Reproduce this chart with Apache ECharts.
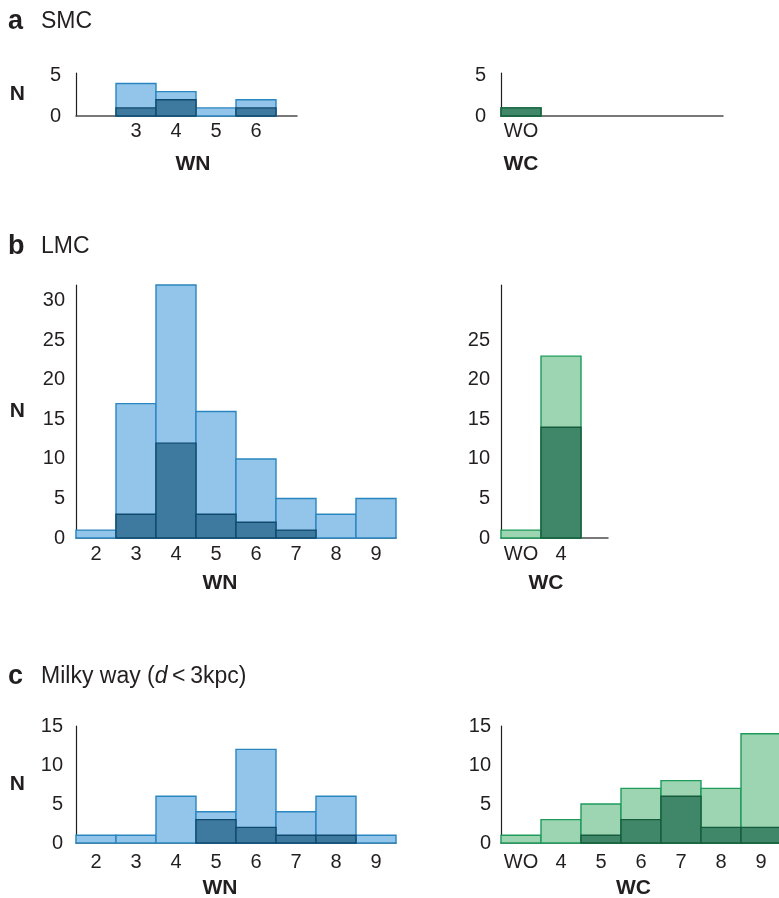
<!DOCTYPE html>
<html><head><meta charset="utf-8">
<script src="https://cdn.jsdelivr.net/npm/echarts@6/dist/echarts.min.js"></script>
<style>html,body{margin:0;padding:0;background:#fff}#c{width:779px;height:898px}</style>
</head><body><div id="c"></div>
<script>
// ---- data ----
// SMC
const smcWNBins = ['3', '4', '5', '6'];
const smcWNAll  = [4, 3, 1, 2];
const smcWNDark = [1, 2, 0, 1];
const smcWCBins = ['WO'];
const smcWCAll  = [1];
const smcWCDark = [1];
// LMC
const lmcWNBins = ['2', '3', '4', '5', '6', '7', '8', '9'];
const lmcWNAll  = [1, 17, 32, 16, 10, 5, 3, 5];
const lmcWNDark = [0, 3, 12, 3, 2, 1, 0, 0];
const lmcWCBins = ['WO', '4'];
const lmcWCAll  = [1, 23];
const lmcWCDark = [0, 14];
// Milky Way (d < 3 kpc)
const mwWNBins = ['2', '3', '4', '5', '6', '7', '8', '9'];
const mwWNAll  = [1, 1, 6, 4, 12, 4, 6, 1];
const mwWNDark = [0, 0, 0, 3, 2, 1, 1, 0];
const mwWCBins = ['WO', '4', '5', '6', '7', '8', '9'];
const mwWCAll  = [1, 3, 5, 7, 8, 7, 14];
const mwWCDark = [0, 0, 1, 3, 6, 2, 2];
// y tick labels
const yTicksSMC = [0, 5];
const yTicksLMCWN = [0, 5, 10, 15, 20, 25, 30];
const yTicksLMCWC = [0, 5, 10, 15, 20, 25];
const yTicksMW = [0, 5, 10, 15];
// panel titles
const panelLetters = ['a', 'b', 'c'];
const panelNames = ['SMC', 'LMC', 'Milky way'];

// ---- styling ----
const FONT = 'Liberation Sans, Arial, Helvetica, sans-serif';
const TXT = '#231f20';
const BLUE = { light: '#93c5ea', lightStroke: '#2a86c0', dark: '#3e7a9f', darkStroke: '#0f4a6e' };
const GREEN = { light: '#9dd4b2', lightStroke: '#1f9b5b', dark: '#3f8768', darkStroke: '#145d3b' };

// bin position on the numeric axis: WO sits just before WC4
function binPos(label) { return label === 'WO' ? 3 : Number(label); }

const grids = [], xAxes = [], yAxes = [], series = [];

function panel(cfg) {
  const i = grids.length;
  grids.push({ left: cfg.left, top: cfg.top, width: cfg.width, height: cfg.height,
               containLabel: false, outerBoundsMode: 'none' });
  const labelMap = {};
  cfg.bins.forEach(b => { labelMap[binPos(b)] = b; });
  xAxes.push({
    type: 'value', gridIndex: i, min: cfg.xMin, max: cfg.xMax,
    splitLine: { show: false }, axisTick: { show: false },
    axisLine: { show: true, lineStyle: { color: '#4d4d4d', width: 1.5 } },
    axisLabel: {
      customValues: cfg.bins.map(binPos), formatter: v => labelMap[v] || '',
      fontSize: 20, color: TXT, fontFamily: FONT, margin: cfg.xMargin
    },
    name: cfg.xName, nameLocation: 'middle', nameGap: cfg.xNameGap,
    nameTextStyle: { fontSize: 21, fontWeight: 'bold', color: TXT, fontFamily: FONT, padding: cfg.xNamePad }
  });
  yAxes.push({
    type: 'value', gridIndex: i, min: 0, max: cfg.yMax,
    splitLine: { show: false }, axisTick: { show: false },
    axisLine: { show: true, lineStyle: { color: '#231f20', width: 1.2 } },
    axisLabel: { customValues: cfg.yTicks, fontSize: 20, color: TXT, fontFamily: FONT, margin: cfg.yMargin },
    name: cfg.yName || '', nameLocation: 'middle', nameRotate: 0, nameGap: 51,
    nameTextStyle: { fontSize: 21, fontWeight: 'bold', color: TXT, fontFamily: FONT }
  });
  const mk = (vals, fill, stroke, name) => ({
    type: 'custom', name, xAxisIndex: i, yAxisIndex: i, clip: false,
    data: cfg.bins.map((b, k) => [binPos(b), vals[k]]).filter(d => d[1] > 0),
    encode: { x: 0, y: 1 },
    renderItem: (params, api) => {
      const x = api.value(0), v = api.value(1);
      const p0 = api.coord([x - 0.5, v]);
      const p1 = api.coord([x + 0.5, 0]);
      return { type: 'rect', shape: { x: p0[0], y: p0[1], width: p1[0] - p0[0], height: p1[1] - p0[1] },
               style: { fill, stroke, lineWidth: 1.4 } };
    }
  });
  series.push(mk(cfg.all, cfg.pal.light, cfg.pal.lightStroke, 'all'));
  series.push(mk(cfg.dark, cfg.pal.dark, cfg.pal.darkStroke, 'subset'));
}

panel({ left: 76, top: 73, width: 221, height: 43, xMin: 1.5, xMax: 7.025, yMax: 5.3,
  bins: smcWNBins, all: smcWNAll, dark: smcWNDark, pal: BLUE, yTicks: yTicksSMC,
  xName: 'WN', yName: 'N', xNameGap: 38, xNamePad: [0, 0, 0, 13], xMargin: 5, yMargin: 15 });
panel({ left: 501, top: 73, width: 222, height: 43, xMin: 2.5, xMax: 8.05, yMax: 5.3,
  bins: smcWCBins, all: smcWCAll, dark: smcWCDark, pal: GREEN, yTicks: yTicksSMC,
  xName: 'WC', xNameGap: 38, xNamePad: [0, 182, 0, 0], xMargin: 5, yMargin: 15 });
panel({ left: 76, top: 285, width: 320, height: 253, xMin: 1.5, xMax: 9.5, yMax: 32,
  bins: lmcWNBins, all: lmcWNAll, dark: lmcWNDark, pal: BLUE, yTicks: yTicksLMCWN,
  xName: 'WN', yName: 'N', xNameGap: 35, xNamePad: [0, 32, 0, 0], xMargin: 6, yMargin: 11 });
panel({ left: 501, top: 285, width: 107, height: 253, xMin: 2.5, xMax: 5.175, yMax: 32,
  bins: lmcWCBins, all: lmcWCAll, dark: lmcWCDark, pal: GREEN, yTicks: yTicksLMCWC,
  xName: 'WC', xNameGap: 35, xNamePad: [0, 17, 0, 0], xMargin: 6, yMargin: 11 });
panel({ left: 76, top: 726, width: 320, height: 117, xMin: 1.5, xMax: 9.5, yMax: 15,
  bins: mwWNBins, all: mwWNAll, dark: mwWNDark, pal: BLUE, yTicks: yTicksMW,
  xName: 'WN', yName: 'N', xNameGap: 35, xNamePad: [0, 32, 0, 0], xMargin: 9, yMargin: 13 });
panel({ left: 501, top: 726, width: 278, height: 117, xMin: 2.5, xMax: 9.45, yMax: 15,
  bins: mwWCBins, all: mwWCAll, dark: mwWCDark, pal: GREEN, yTicks: yTicksMW,
  xName: 'WC', xNameGap: 35, xNamePad: [0, 13, 0, 0], xMargin: 9, yMargin: 10 });

const titleRich = {
  l: { fontSize: 27, fontWeight: 'bold', color: TXT, fontFamily: FONT, width: 33 },
  n: { fontSize: 23, fontWeight: 'normal', color: TXT, fontFamily: FONT },
  i: { fontSize: 23, fontWeight: 'normal', color: TXT, fontFamily: FONT, fontStyle: 'italic' }
};
const titleTops = [8, 233, 663];
const titles = panelLetters.map((l, k) => ({
  left: 8, top: titleTops[k], padding: 0,
  text: k === 2 ? `{l|${l}}{n|${panelNames[k]} (}{i|d}{n|\u2009<\u20093kpc)}` : `{l|${l}}{n|${panelNames[k]}}`,
  textStyle: { fontWeight: 'normal', rich: titleRich }
}));

const chart = echarts.init(document.getElementById('c'), null, { renderer: 'canvas' });
chart.setOption({
  animation: false, backgroundColor: '#fff',
  title: titles, grid: grids, xAxis: xAxes, yAxis: yAxes, series
});
</script></body></html>
